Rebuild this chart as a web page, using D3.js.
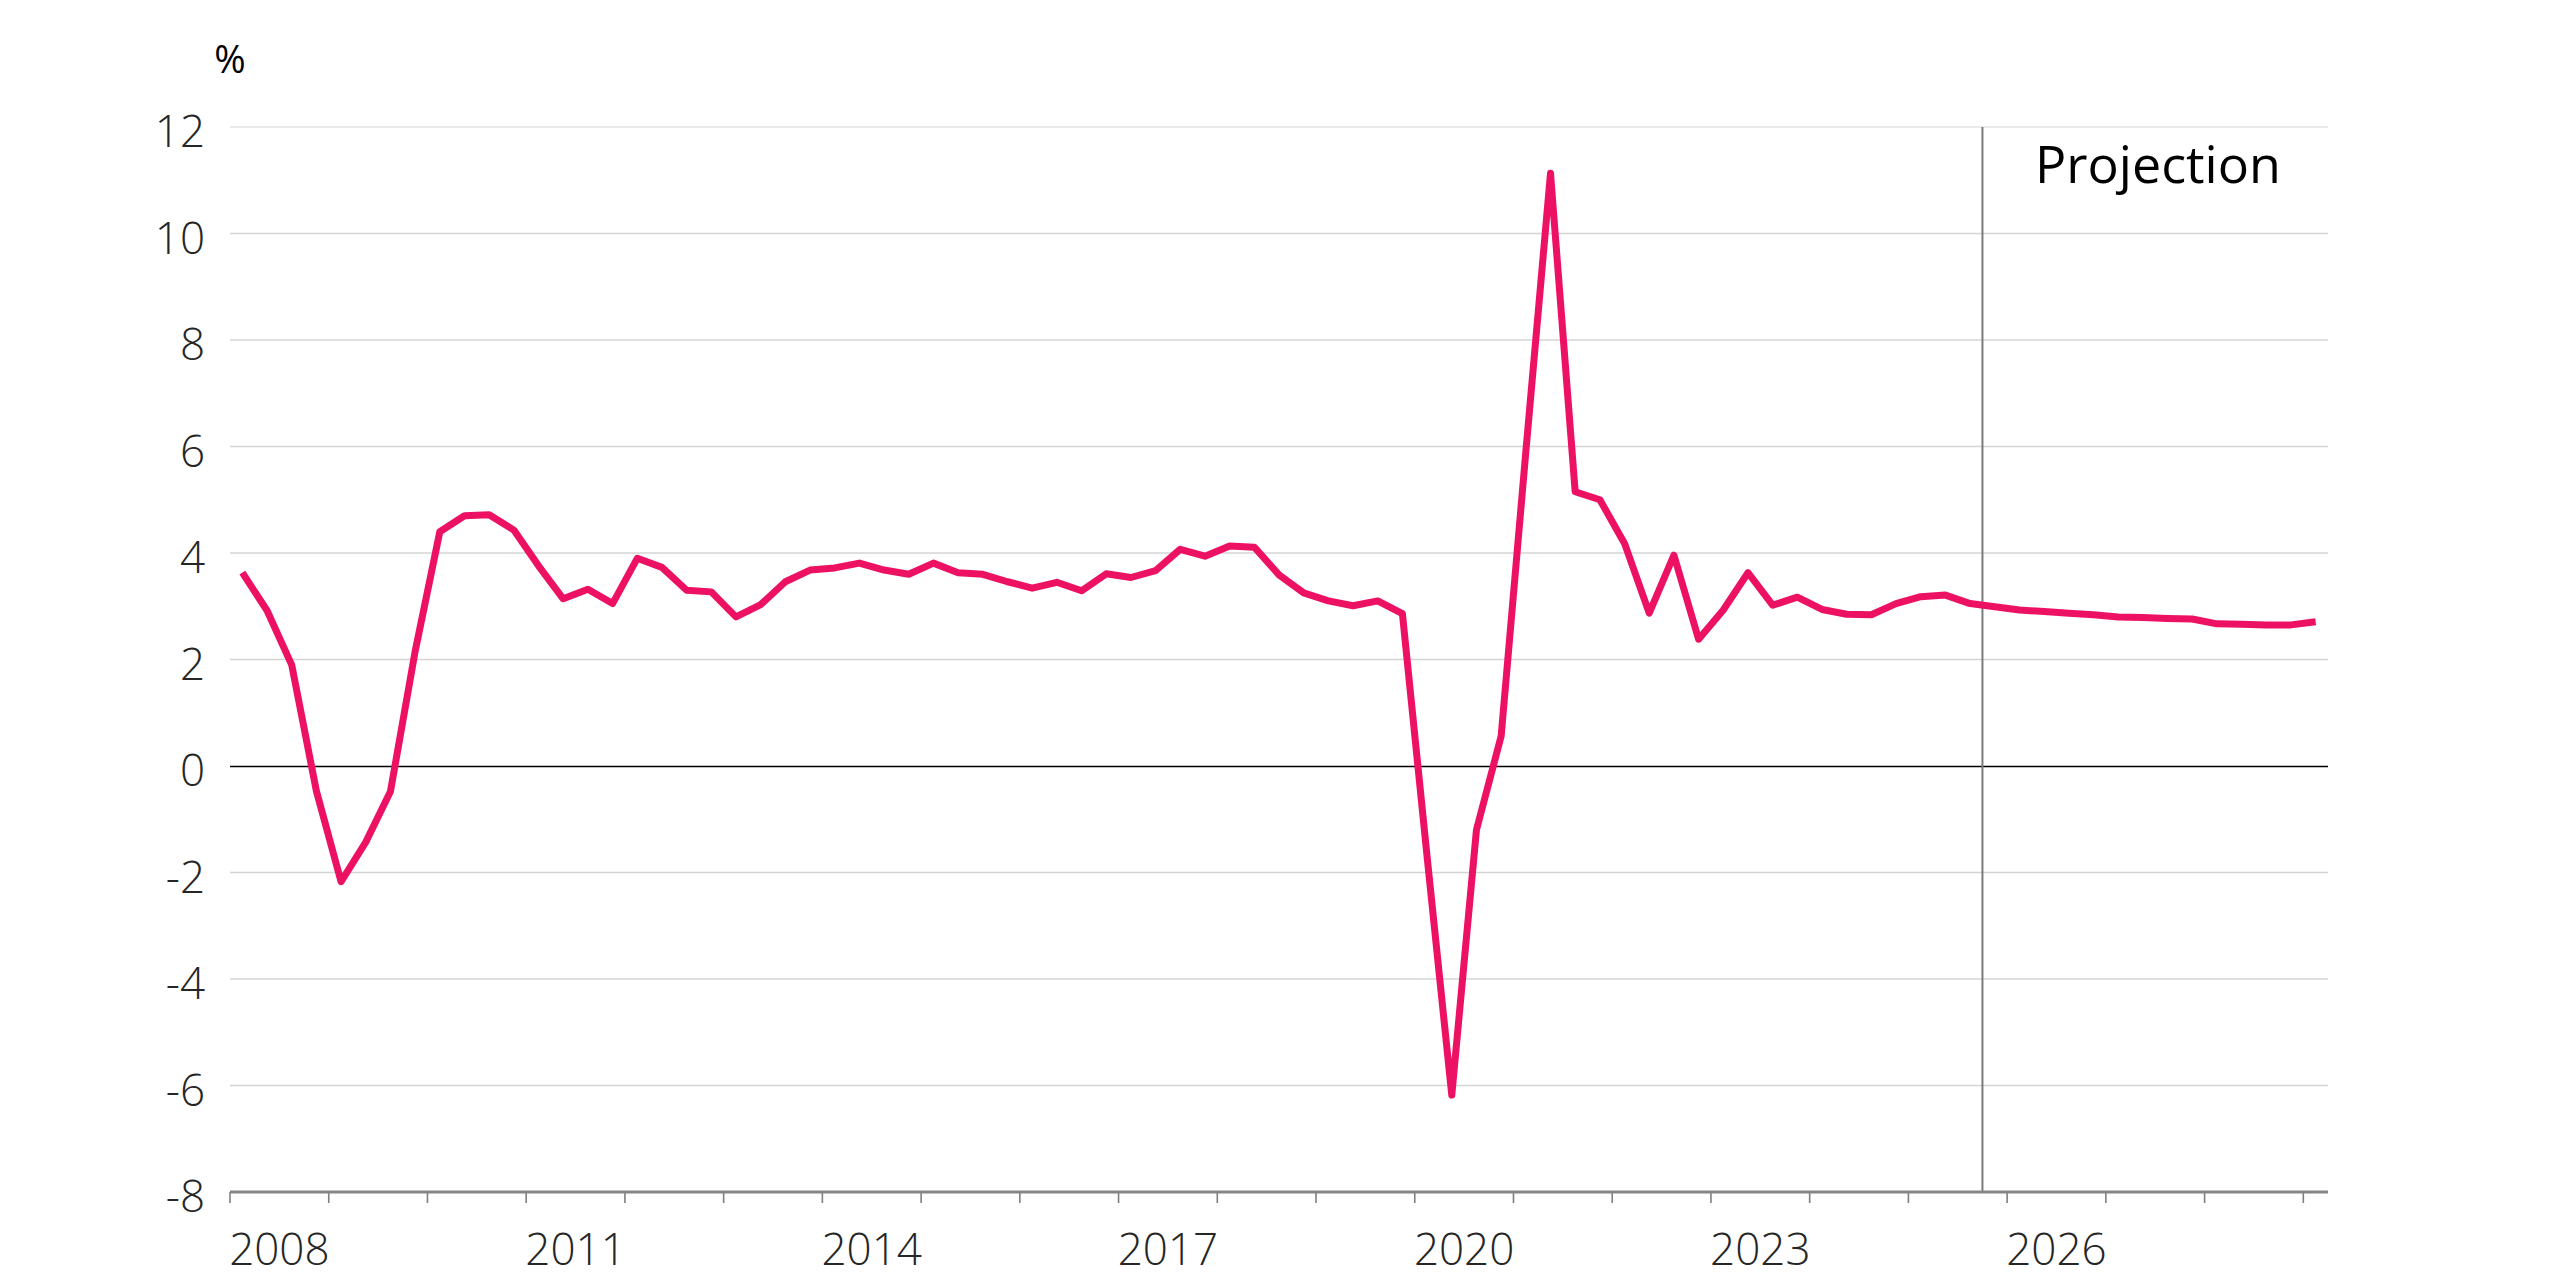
<!DOCTYPE html>
<html>
<head>
<meta charset="utf-8">
<script src="https://cdn.jsdelivr.net/npm/d3@7"></script>
<style>
  html, body { margin: 0; padding: 0; background: #fff; }
  svg { display: block; }
</style>
</head>
<body>
<svg id="chart" width="2560" height="1280"></svg>
<script>
// ---- Data ----
const startYear = 2008;
const endYear = 2029;            // last quarter shown: 2029 Q1
const yearLabels = ["2008", "2011", "2014", "2017", "2020", "2023", "2026"];
const yTicks = [-8, -6, -4, -2, 0, 2, 4, 6, 8, 10, 12];
const projectionStart = "2025Q4";
const projectionLabel = "Projection";
const unitLabel = "%";

const growth = [
  3.63, 2.92, 1.90, -0.47, -2.17, -1.43, -0.48, 2.15,
  4.40, 4.70, 4.72, 4.43, 3.76, 3.14, 3.32, 3.05,
  3.90, 3.73, 3.30, 3.27, 2.80, 3.03, 3.46, 3.68,
  3.72, 3.81, 3.68, 3.60, 3.81, 3.63, 3.60, 3.46,
  3.34, 3.45, 3.29, 3.61, 3.54, 3.67, 4.07, 3.94,
  4.13, 4.11, 3.59, 3.25, 3.10, 3.01, 3.10, 2.86,
  -1.70, -6.18, -1.20, 0.56, 5.90, 11.13, 5.15, 5.00,
  4.18, 2.87, 3.96, 2.38, 2.93, 3.63, 3.02, 3.17,
  2.94, 2.85, 2.84, 3.05, 3.18, 3.21, 3.05, 2.99,
  2.93, 2.90, 2.87, 2.84, 2.80, 2.79, 2.77, 2.76,
  2.67, 2.66, 2.65, 2.65, 2.71
];

// quarter categories
const quarters = [];
for (let yr = startYear; yr <= endYear; yr++) {
  for (let q = 1; q <= 4; q++) {
    if (yr === endYear && q > 1) break;
    quarters.push(yr + "Q" + q);
  }
}
const data = quarters.map((q, i) => ({ q, v: growth[i] }));

// ---- Layout ----
const mLeft = 230, mRight = 2328, mTop = 127, mBottom = 1192;
const svg = d3.select("#chart");

const x = d3.scaleBand().domain(quarters).range([mLeft, mRight]).padding(0);
const y = d3.scaleLinear().domain([-8, 12]).range([mBottom, mTop]);

const tickFont = "'Open Sans', 'Noto Sans', sans-serif";

// gridlines
svg.append("g")
  .selectAll("line")
  .data(yTicks.filter(d => d !== 0 && d !== -8))
  .join("line")
  .attr("x1", mLeft).attr("x2", mRight)
  .attr("y1", d => y(d)).attr("y2", d => y(d))
  .attr("stroke", d => d === 12 ? "#e3e3e3" : "#d4d4d4")
  .attr("stroke-width", 1.6);

// y axis labels
svg.append("g")
  .selectAll("text")
  .data(yTicks)
  .join("text")
  .attr("x", 205)
  .attr("y", d => y(d) + 20)
  .attr("text-anchor", "end")
  .attr("font-family", tickFont)
  .attr("font-weight", 300)
  .attr("font-size", 44)
  .attr("fill", "#262626")
  .text(d => d);

// unit label
svg.append("text")
  .attr("x", 230).attr("y", 73)
  .attr("text-anchor", "middle")
  .attr("font-family", tickFont)
  .attr("font-size", 38)
  .attr("fill", "#000")
  .text(unitLabel);

// zero line
svg.append("line")
  .attr("x1", mLeft).attr("x2", mRight)
  .attr("y1", Math.round(y(0)) + 0.5).attr("y2", Math.round(y(0)) + 0.5)
  .attr("stroke", "#000").attr("stroke-width", 1.5);

// projection line
const px = x(projectionStart);
svg.append("line")
  .attr("x1", px).attr("x2", px)
  .attr("y1", y(12)).attr("y2", mBottom)
  .attr("stroke", "#7a7a7a").attr("stroke-width", 2);

svg.append("text")
  .attr("x", 2035).attr("y", 183)
  .attr("font-family", tickFont)
  .attr("font-size", 52)
  .attr("fill", "#000")
  .text(projectionLabel);

// x axis: ticks at year boundaries
const yearStarts = quarters.filter(q => q.endsWith("Q1"));
const xAxis = d3.axisBottom(x)
  .tickValues(yearStarts)
  .tickSize(11)
  .tickFormat("");
const gx = svg.append("g")
  .attr("transform", `translate(0,${mBottom})`)
  .call(xAxis);
gx.select(".domain").remove();
gx.selectAll(".tick")
  .attr("transform", d => `translate(${x(d)},0)`);
gx.selectAll(".tick line")
  .attr("stroke", "#7f7f7f").attr("stroke-width", 1.6);

svg.append("line")
  .attr("x1", mLeft).attr("x2", mRight)
  .attr("y1", mBottom).attr("y2", mBottom)
  .attr("stroke", "#858585").attr("stroke-width", 3);

// year labels centered in each year (mid-year = between Q2 and Q3)
svg.append("g")
  .selectAll("text")
  .data(yearLabels)
  .join("text")
  .attr("x", d => x(d + "Q3"))
  .attr("y", 1265)
  .attr("text-anchor", "middle")
  .attr("font-family", tickFont)
  .attr("font-weight", 300)
  .attr("font-size", 44)
  .attr("fill", "#262626")
  .text(d => d);

// the line
const line = d3.line()
  .x(d => x(d.q) + x.bandwidth() / 2)
  .y(d => y(d.v));

svg.append("path")
  .datum(data)
  .attr("d", line)
  .attr("fill", "none")
  .attr("stroke", "#ED1164")
  .attr("stroke-width", 7)
  .attr("stroke-linejoin", "round")
  .attr("stroke-linecap", "butt");
</script>
</body>
</html>
